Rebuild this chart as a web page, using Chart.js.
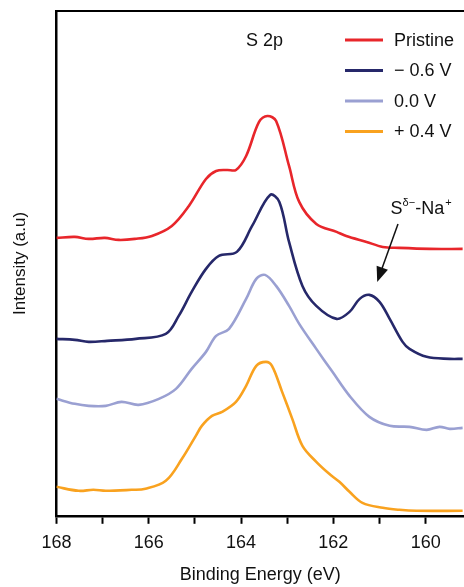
<!DOCTYPE html>
<html>
<head>
<meta charset="utf-8">
<script src="https://cdn.jsdelivr.net/npm/chart.js@4.4.1/dist/chart.umd.min.js"></script>
<style>
  html, body { margin: 0; padding: 0; background: #fff; }
  #wrap { width: 464px; height: 587px; position: relative; }
</style>
</head>
<body>
<div id="wrap"><canvas id="xpsChart"></canvas></div>
<script>
// ===== DATA (binding energy in eV, intensity in arbitrary units, curves already offset) =====
const pristineE = [168.0, 167.6, 167.3, 166.95, 166.65, 166.3, 165.93, 165.5, 165.13, 164.76, 164.54, 164.3, 164.11, 163.89, 163.61, 163.43, 163.24, 162.96, 162.74, 162.37, 161.93, 161.72, 161.28, 160.93, 160.57, 159.91, 159.2];
const pristineI = [278, 279, 277, 278, 276, 277, 280, 290, 310, 337, 345, 346, 346, 360, 394, 400, 395, 350, 314, 292, 284, 280, 274, 269, 268, 267, 267];

const minus06E = [168.0, 167.6, 167.3, 166.9, 166.28, 165.63, 165.35, 165.07, 164.76, 164.48, 164.09, 163.76, 163.37, 163.17, 162.96, 162.67, 162.37, 161.93, 161.65, 161.43, 161.22, 161.0, 160.78, 160.5, 160.35, 159.98, 159.48, 159.2];
const minus06I = [177, 176, 174, 175, 177, 182, 200, 224, 247, 260, 264, 290, 321, 314, 274, 230, 210, 197, 204, 217, 221, 214, 197, 174, 167, 159, 157, 157];

const zeroE = [168.0, 167.6, 167.3, 166.93, 166.59, 166.22, 165.78, 165.41, 165.07, 164.76, 164.54, 164.26, 163.89, 163.67, 163.48, 163.24, 162.96, 162.74, 162.37, 162.02, 161.65, 161.22, 160.78, 160.35, 159.98, 159.7, 159.48, 159.2];
const zeroI = [117, 112, 110, 110, 114, 111, 117, 127, 147, 164, 180, 187, 217, 237, 241, 230, 210, 192, 167, 144, 120, 99, 90, 89, 86, 89, 87, 88];

const plus04E = [168.0, 167.52, 167.2, 166.93, 166.37, 166.07, 165.63, 165.28, 164.98, 164.85, 164.63, 164.41, 164.11, 163.89, 163.67, 163.46, 163.33, 163.11, 162.89, 162.67, 162.37, 162.09, 161.87, 161.65, 161.37, 160.93, 160.57, 160.2, 159.2];
const plus04I = [29, 25, 26, 25, 26, 27, 35, 57, 80, 90, 100, 104, 114, 130, 150, 154, 150, 124, 97, 70, 54, 42, 34, 24, 13, 8, 6, 5, 5];

const seriesLabels = ["Pristine", "\u2212 0.6 V", "0.0 V", "+ 0.4 V"];
const seriesColors = ["#e8262b", "#26286a", "#9aa0d2", "#f9a21f"];
const xTicks = [168, 167, 166, 165, 164, 163, 162, 161, 160];

const FONT = "'Liberation Sans', Arial, sans-serif";

function toPoints(es, is) {
  return es.map((e, i) => ({ x: e, y: is[i] }));
}

// ===== FRAME, LEGEND AND LABELS =====
const decorPlugin = {
  id: "decor",
  afterDraw(chart) {
    const { ctx, chartArea, scales } = chart;
    const xs = scales.x, ys = scales.y;
    ctx.save();

    // top border
    ctx.strokeStyle = "#000";
    ctx.lineWidth = 2;
    ctx.beginPath();
    ctx.moveTo(chartArea.left - 1, chartArea.top);
    ctx.lineTo(chartArea.right, chartArea.top);
    ctx.stroke();

    // legend
    ctx.font = "18px " + FONT;
    ctx.textBaseline = "middle";
    chart.data.datasets.forEach((ds, i) => {
      const y = 40 + i * 30.5;
      ctx.strokeStyle = ds.borderColor;
      ctx.lineWidth = 3;
      ctx.beginPath();
      ctx.moveTo(345, y);
      ctx.lineTo(383, y);
      ctx.stroke();
      ctx.fillStyle = "#111";
      ctx.fillText(ds.label, 394, y + 1);
    });

    // S 2p
    ctx.fillText("S 2p", 246, 41);

    // S(delta-)-Na(+) annotation
    const tx = xs.getPixelForValue(160.76), ty = ys.getPixelForValue(307);
    ctx.font = "18px " + FONT;
    ctx.fillText("S", tx, ty);
    let w = ctx.measureText("S").width;
    ctx.font = "11px " + FONT;
    ctx.fillText("\u03b4\u2212", tx + w, ty - 6);
    w += ctx.measureText("\u03b4\u2212").width;
    ctx.font = "18px " + FONT;
    ctx.fillText("-Na", tx + w, ty);
    w += ctx.measureText("-Na").width;
    ctx.font = "11px " + FONT;
    ctx.fillText("+", tx + w + 1, ty - 6);

    // arrow
    const x1 = xs.getPixelForValue(160.6), y1 = ys.getPixelForValue(292);
    const x2 = xs.getPixelForValue(161.05), y2 = ys.getPixelForValue(234);
    const ang = Math.atan2(y2 - y1, x2 - x1);
    const head = 15;
    ctx.strokeStyle = "#111";
    ctx.fillStyle = "#111";
    ctx.lineWidth = 1.5;
    ctx.beginPath();
    ctx.moveTo(x1, y1);
    ctx.lineTo(x2 - head * 0.8 * Math.cos(ang), y2 - head * 0.8 * Math.sin(ang));
    ctx.stroke();
    ctx.beginPath();
    ctx.moveTo(x2, y2);
    ctx.lineTo(x2 - head * Math.cos(ang) + 6 * Math.sin(ang), y2 - head * Math.sin(ang) - 6 * Math.cos(ang));
    ctx.lineTo(x2 - head * Math.cos(ang) - 6 * Math.sin(ang), y2 - head * Math.sin(ang) + 6 * Math.cos(ang));
    ctx.closePath();
    ctx.fill();

    ctx.restore();
  }
};

const chartCtx = document.getElementById("xpsChart").getContext("2d");

new Chart(chartCtx, {
  type: "line",
  data: {
    datasets: [
      { label: seriesLabels[0], data: toPoints(pristineE, pristineI), borderColor: seriesColors[0] },
      { label: seriesLabels[1], data: toPoints(minus06E, minus06I), borderColor: seriesColors[1] },
      { label: seriesLabels[2], data: toPoints(zeroE, zeroI), borderColor: seriesColors[2] },
      { label: seriesLabels[3], data: toPoints(plus04E, plus04I), borderColor: seriesColors[3] }
    ].map(ds => Object.assign(ds, {
      borderWidth: 2.6,
      pointRadius: 0,
      fill: false,
      tension: 0.35
    }))
  },
  options: {
    responsive: true,
    maintainAspectRatio: false,
    animation: false,
    layout: { padding: { top: 11, right: 0, left: 10, bottom: 0 } },
    plugins: {
      legend: { display: false },
      tooltip: { enabled: false }
    },
    scales: {
      x: {
        type: "linear",
        reverse: true,
        min: 159.17,
        max: 168,
        afterBuildTicks: axis => { axis.ticks = xTicks.map(v => ({ value: v })); },
        border: { display: true, color: "#000", width: 2.5 },
        grid: {
          drawOnChartArea: false,
          drawTicks: true,
          tickLength: 8,
          tickWidth: 2,
          tickColor: "#000"
        },
        ticks: {
          color: "#111",
          font: { size: 18, family: FONT },
          padding: 8,
          maxRotation: 0,
          autoSkip: false,
          callback: v => (v % 2 === 0 ? String(v) : "")
        },
        title: {
          display: true,
          text: "Binding Energy (eV)",
          color: "#111",
          font: { size: 18, family: FONT },
          padding: { top: 3, bottom: 1 }
        }
      },
      y: {
        min: 0,
        max: 505,
        border: { display: true, color: "#000", width: 2.5 },
        grid: { display: false, drawTicks: false },
        ticks: { display: false },
        title: {
          display: true,
          text: "Intensity (a.u)",
          color: "#111",
          font: { size: 17, family: FONT },
          padding: { top: 0, bottom: 26 }
        }
      }
    }
  },
  plugins: [decorPlugin]
});
</script>
</body>
</html>
